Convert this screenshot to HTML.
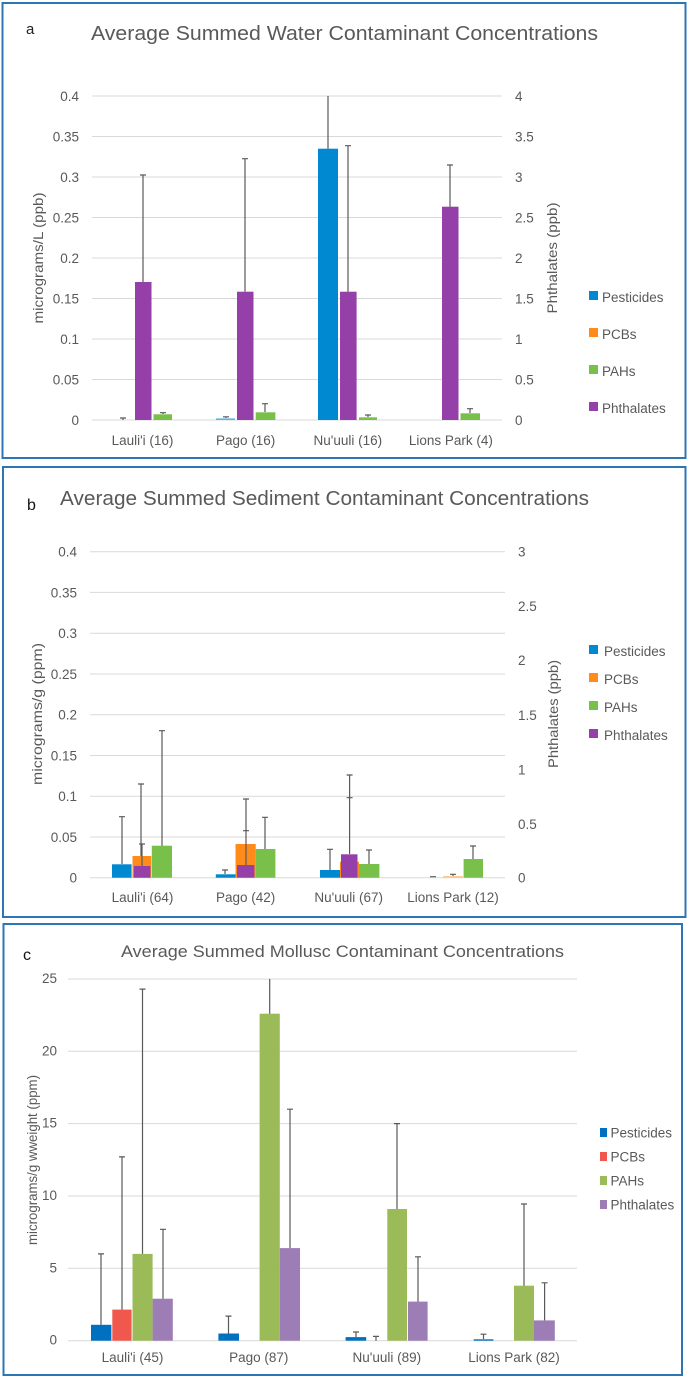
<!DOCTYPE html>
<html><head><meta charset="utf-8"><style>
html,body{margin:0;padding:0;background:#fff;}
svg{display:block;font-family:"Liberation Sans",sans-serif;}
.t{fill:#595959;font-size:13.5px;}
.g{stroke:#d9d9d9;stroke-width:1;}
.e{stroke:#595959;stroke-width:1.2;fill:none;}
</style></head><body>
<svg width="688" height="1379" viewBox="0 0 688 1379" xmlns="http://www.w3.org/2000/svg">
<rect x="0" y="0" width="688" height="1379" fill="#fff"/>
<!-- Panel a -->
<rect x="2.5" y="3" width="683" height="455" fill="none" stroke="#2E75B6" stroke-width="2"/>
<text x="26" y="34" font-size="15" fill="#222">a</text>
<text x="91" y="40" font-size="20" fill="#595959" textLength="507" lengthAdjust="spacingAndGlyphs">Average Summed Water Contaminant Concentrations</text>
<g class="g">
<line x1="92" x2="502" y1="96" y2="96"/><line x1="92" x2="502" y1="136.5" y2="136.5"/><line x1="92" x2="502" y1="177" y2="177"/><line x1="92" x2="502" y1="217.5" y2="217.5"/><line x1="92" x2="502" y1="258" y2="258"/><line x1="92" x2="502" y1="298.5" y2="298.5"/><line x1="92" x2="502" y1="339" y2="339"/><line x1="92" x2="502" y1="379.5" y2="379.5"/><line x1="92" x2="502" y1="420" y2="420"/>
</g>
<g class="t" text-anchor="end">
<text x="79" y="101">0.4</text><text x="79" y="141.5">0.35</text><text x="79" y="182">0.3</text><text x="79" y="222.5">0.25</text><text x="79" y="263">0.2</text><text x="79" y="303.5">0.15</text><text x="79" y="344">0.1</text><text x="79" y="384.5">0.05</text><text x="79" y="425">0</text>
</g>
<g class="t">
<text x="515" y="101">4</text><text x="515" y="141.5">3.5</text><text x="515" y="182">3</text><text x="515" y="222.5">2.5</text><text x="515" y="263">2</text><text x="515" y="303.5">1.5</text><text x="515" y="344">1</text><text x="515" y="384.5">0.5</text><text x="515" y="425">0</text>
</g>
<text class="t" font-size="15" transform="translate(43,258) rotate(-90)" text-anchor="middle" textLength="131" lengthAdjust="spacingAndGlyphs">micrograms/L (ppb)</text>
<text class="t" font-size="15" transform="translate(557,258) rotate(-90)" text-anchor="middle" textLength="111" lengthAdjust="spacingAndGlyphs">Phthalates (ppb)</text>
<g class="t" text-anchor="middle" font-size="14">
<text x="142.5" y="445">Lauli'i (16)</text><text x="245.6" y="445">Pago (16)</text><text x="347.8" y="445">Nu'uuli (16)</text><text x="450.9" y="445">Lions Park (4)</text>
</g>
<rect x="216" y="418.4" width="19" height="1.6" fill="#5AB4E8"/>
<rect x="318" y="148.7" width="20" height="271.3" fill="#0088D1"/>
<rect x="135" y="282" width="16.5" height="138" fill="#9540A8"/>
<rect x="237" y="291.7" width="16.5" height="128.3" fill="#9540A8"/>
<rect x="340" y="291.7" width="16.6" height="128.3" fill="#9540A8"/>
<rect x="442" y="206.7" width="16.5" height="213.3" fill="#9540A8"/>
<rect x="153.5" y="414.3" width="18.5" height="5.7" fill="#78C04A"/>
<rect x="255.7" y="412.3" width="19.7" height="7.7" fill="#78C04A"/>
<rect x="359" y="417.3" width="18" height="2.7" fill="#78C04A"/>
<rect x="460.5" y="413.3" width="19.5" height="6.7" fill="#78C04A"/>
<path class="e" d="M123 420V418M120 418H126 M143 282V175M140 175H146 M163 414V412.7M160 412.7H166 M226 418V416.8M223 416.8H229 M245 291.7V158.7M242 158.7H248 M265 412V403.7M262 403.7H268 M328 148.7V96 M348 291.7V145.7M345 145.7H351 M368 417V415M365 415H371 M450 206.7V165M447 165H453 M470 413V408.7M467 408.7H473"/>
<rect x="589" y="291" width="9" height="9" fill="#0088D1"/><text class="t" font-size="15" x="602" y="302">Pesticides</text>
<rect x="589" y="328" width="9" height="9" fill="#FF8C1A"/><text class="t" font-size="15" x="602" y="339">PCBs</text>
<rect x="589" y="365" width="9" height="9" fill="#78C04A"/><text class="t" font-size="15" x="602" y="376">PAHs</text>
<rect x="589" y="402" width="9" height="9" fill="#9540A8"/><text class="t" font-size="15" x="602" y="413">Phthalates</text>

<!-- Panel b -->
<rect x="3" y="467" width="682.5" height="450" fill="none" stroke="#2E75B6" stroke-width="2"/>
<text x="27" y="510" font-size="16" fill="#111">b</text>
<text x="60" y="505" font-size="20" fill="#595959" textLength="529" lengthAdjust="spacingAndGlyphs">Average Summed Sediment Contaminant Concentrations</text>
<g class="g">
<line x1="90" x2="505" y1="551.7" y2="551.7"/><line x1="90" x2="505" y1="592.4" y2="592.4"/><line x1="90" x2="505" y1="633.2" y2="633.2"/><line x1="90" x2="505" y1="674" y2="674"/><line x1="90" x2="505" y1="714.7" y2="714.7"/><line x1="90" x2="505" y1="755.5" y2="755.5"/><line x1="90" x2="505" y1="796.2" y2="796.2"/><line x1="90" x2="505" y1="837" y2="837"/><line x1="90" x2="505" y1="877.7" y2="877.7"/>
</g>
<g class="t" text-anchor="end">
<text x="77" y="556.7">0.4</text><text x="77" y="597.4">0.35</text><text x="77" y="638.2">0.3</text><text x="77" y="679">0.25</text><text x="77" y="719.7">0.2</text><text x="77" y="760.5">0.15</text><text x="77" y="801.2">0.1</text><text x="77" y="842">0.05</text><text x="77" y="882.7">0</text>
</g>
<g class="t">
<text x="518" y="556.7">3</text><text x="518" y="611">2.5</text><text x="518" y="665">2</text><text x="518" y="720">1.5</text><text x="518" y="774.7">1</text><text x="518" y="829">0.5</text><text x="518" y="882.7">0</text>
</g>
<text class="t" font-size="15" transform="translate(42,714) rotate(-90)" text-anchor="middle" textLength="142" lengthAdjust="spacingAndGlyphs">micrograms/g  (ppm)</text>
<text class="t" font-size="15" transform="translate(558,714) rotate(-90)" text-anchor="middle" textLength="108" lengthAdjust="spacingAndGlyphs">Phthalates (ppb)</text>
<g class="t" text-anchor="middle" font-size="14">
<text x="142.5" y="902">Lauli'i (64)</text><text x="245.6" y="902">Pago (42)</text><text x="348.7" y="902">Nu'uuli (67)</text><text x="453" y="902">Lions Park (12)</text>
</g>
<rect x="112" y="864.3" width="19.6" height="13.4" fill="#0088D1"/>
<rect x="215.8" y="874.3" width="19.7" height="3.4" fill="#0088D1"/>
<rect x="320" y="870" width="20" height="7.7" fill="#0088D1"/>
<rect x="132.5" y="856" width="18.8" height="21.7" fill="#FF8C1A"/>
<rect x="235.5" y="844" width="20.2" height="33.7" fill="#FF8C1A"/>
<rect x="340" y="861.7" width="19" height="16" fill="#FF8C1A"/>
<rect x="443" y="876" width="19.7" height="1.7" fill="#FFC890"/>
<rect x="133.8" y="866" width="16.6" height="11.7" fill="#9540A8"/>
<rect x="237" y="865" width="17.4" height="12.7" fill="#9540A8"/>
<rect x="341" y="854.3" width="16.5" height="23.4" fill="#9540A8"/>
<rect x="151.8" y="845.7" width="20.2" height="32" fill="#78C04A"/>
<rect x="255.7" y="849" width="19.7" height="28.7" fill="#78C04A"/>
<rect x="359" y="864" width="20.4" height="13.7" fill="#78C04A"/>
<rect x="463.6" y="859" width="19.4" height="18.7" fill="#78C04A"/>
<path class="e" d="M122 864V816.7M119 816.7H125 M141 856V784M138 784H144 M142 866V844M139 844H145 M162 845.7V730.7M159 730.7H165 M225 874V870M222 870H228 M246 844V799M243 799H249 M246 865V830.7M243 830.7H249 M265 849V817.3M262 817.3H268 M330 870V849.3M327 849.3H333 M349.6 854V775M346.6 775H352.6 M346.6 797.7H352.6 M369 864V850M366 850H372 M430 876.7H436 M453 876V874.3M450 874.3H456 M473 859V846M470 846H476"/>
<rect x="589" y="645" width="9" height="9" fill="#0088D1"/><text class="t" font-size="15" x="604" y="656">Pesticides</text>
<rect x="589" y="673" width="9" height="9" fill="#FF8C1A"/><text class="t" font-size="15" x="604" y="684">PCBs</text>
<rect x="589" y="701" width="9" height="9" fill="#78C04A"/><text class="t" font-size="15" x="604" y="712">PAHs</text>
<rect x="589" y="729" width="9" height="9" fill="#9540A8"/><text class="t" font-size="15" x="604" y="740">Phthalates</text>

<!-- Panel c -->
<rect x="3.5" y="924" width="678.5" height="451" fill="none" stroke="#2E75B6" stroke-width="2"/>
<text x="23" y="960" font-size="16" fill="#111">c</text>
<text x="121" y="957" font-size="17" fill="#595959" textLength="443" lengthAdjust="spacingAndGlyphs">Average Summed Mollusc Contaminant Concentrations</text>
<g class="g">
<line x1="68" x2="577" y1="979" y2="979"/><line x1="68" x2="577" y1="1051.3" y2="1051.3"/><line x1="68" x2="577" y1="1123.6" y2="1123.6"/><line x1="68" x2="577" y1="1196" y2="1196"/><line x1="68" x2="577" y1="1268.3" y2="1268.3"/><line x1="68" x2="577" y1="1340.7" y2="1340.7"/>
</g>
<g class="t" text-anchor="end" font-size="12.5">
<text x="57" y="983">25</text><text x="57" y="1055.3">20</text><text x="57" y="1127.6">15</text><text x="57" y="1200">10</text><text x="57" y="1272.3">5</text><text x="57" y="1344.7">0</text>
</g>
<text class="t" font-size="14" transform="translate(37,1160) rotate(-90)" text-anchor="middle" textLength="170" lengthAdjust="spacingAndGlyphs">micrograms/g wweight (ppm)</text>
<g class="t" text-anchor="middle" font-size="12.5">
<text x="132.5" y="1362">Lauli'i (45)</text><text x="258.8" y="1362">Pago (87)</text><text x="386.8" y="1362">Nu'uuli (89)</text><text x="514" y="1362">Lions Park (82)</text>
</g>
<rect x="91" y="1324.8" width="20.4" height="15.9" fill="#0070C0"/>
<rect x="218.4" y="1333.5" width="20.6" height="7.2" fill="#0070C0"/>
<rect x="345.6" y="1337.1" width="20.6" height="3.6" fill="#0070C0"/>
<rect x="473.7" y="1339.3" width="19.7" height="1.4" fill="#0070C0"/>
<rect x="112.3" y="1309.6" width="19.3" height="31.1" fill="#F0584E"/>
<rect x="132.5" y="1253.9" width="20.1" height="86.8" fill="#9BBB59"/>
<rect x="259.6" y="1013.7" width="20.2" height="327" fill="#9BBB59"/>
<rect x="387.3" y="1209" width="19.7" height="131.7" fill="#9BBB59"/>
<rect x="514" y="1285.7" width="20" height="55" fill="#9BBB59"/>
<rect x="152.6" y="1298.7" width="20.2" height="42" fill="#9C7DB5"/>
<rect x="279.8" y="1248.1" width="20.2" height="92.6" fill="#9C7DB5"/>
<rect x="408" y="1301.6" width="19.6" height="39.1" fill="#9C7DB5"/>
<rect x="534" y="1320.4" width="20.8" height="20.3" fill="#9C7DB5"/>
<path class="e" d="M101 1324.8V1253.9M98 1253.9H104 M122 1309.6V1156.9M119 1156.9H125 M142.5 1253.9V989.1M139.5 989.1H145.5 M163 1298.7V1229.3M160 1229.3H166 M228.5 1333.5V1316.1M225.5 1316.1H231.5 M269.7 1013.7V979 M290 1248.1V1109.2M287 1109.2H293 M356 1337V1332M353 1332H359 M376 1340.7V1336.4M373 1336.4H379 M397 1209V1123.6M394 1123.6H400 M418 1301.6V1256.8M415 1256.8H421 M483.5 1339V1334.2M480.5 1334.2H486.5 M524 1285.7V1204M521 1204H527 M544.6 1320.4V1282.8M541.6 1282.8H547.6"/>
<rect x="600" y="1128" width="7" height="9" fill="#0070C0"/><text class="t" x="610.5" y="1137.5" font-size="12.5">Pesticides</text>
<rect x="600" y="1152" width="7" height="9" fill="#F0584E"/><text class="t" x="610.5" y="1161.5" font-size="12.5">PCBs</text>
<rect x="600" y="1176" width="7" height="9" fill="#9BBB59"/><text class="t" x="610.5" y="1185.5" font-size="12.5">PAHs</text>
<rect x="600" y="1200" width="7" height="9" fill="#9C7DB5"/><text class="t" x="610.5" y="1209.5" font-size="12.5">Phthalates</text>
</svg>
</body></html>
